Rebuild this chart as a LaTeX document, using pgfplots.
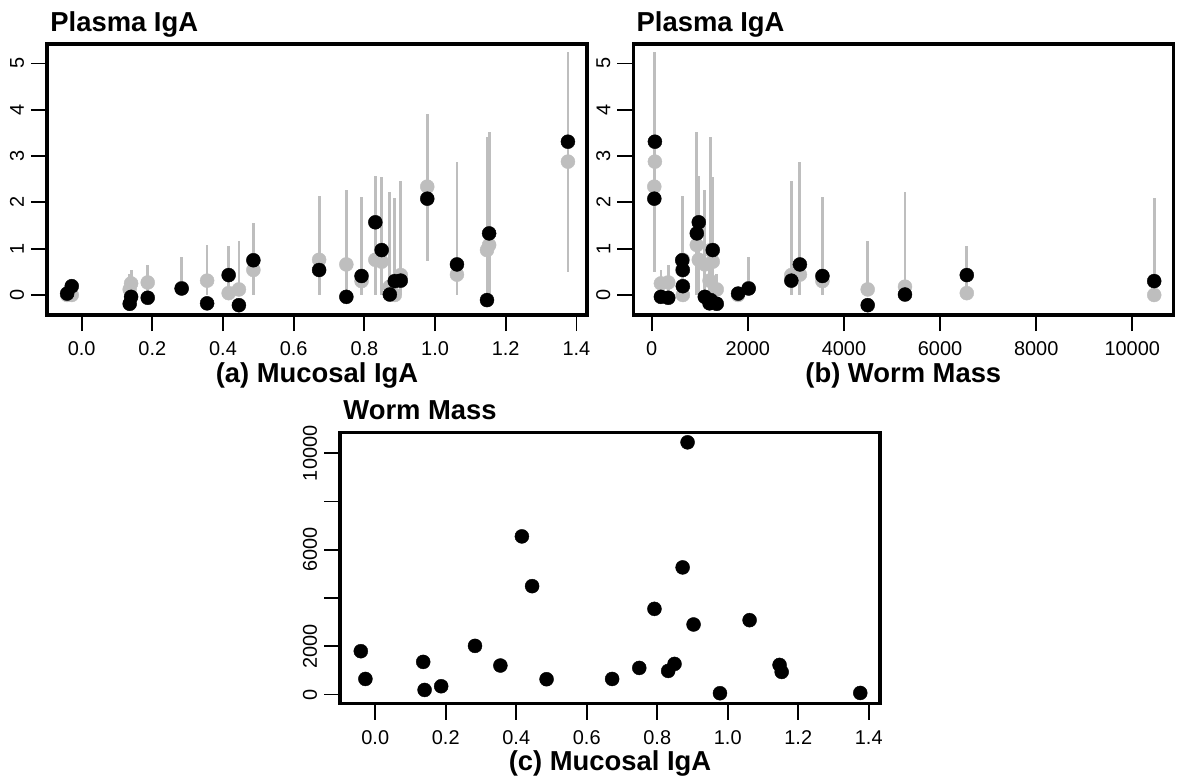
\documentclass[border=0pt]{standalone}
\usepackage{pgfplots}
\pgfplotsset{compat=1.18}
\usepackage{pgfplotstable}
\usepackage{fontspec}
\setmainfont{Liberation Sans}
\definecolor{rgrey}{HTML}{BEBEBE}

% id, mucosal IgA, worm mass, observed plasma IgA, fitted, lower, upper
\pgfplotstableread{
id muc wm obs fit lo hi
1 -0.041 1797 0.03 0.00 0.00 0.10
2 -0.028 647 0.19 0.00 0.00 0.10
3 0.136 1353 -0.19 0.12 0.00 0.45
4 0.140 191 -0.04 0.25 0.00 0.54
5 0.187 344 -0.06 0.27 0.00 0.65
6 0.283 2017 0.14 0.15 0.00 0.83
7 0.355 1203 -0.18 0.31 0.00 1.08
8 0.416 6556 0.43 0.04 0.00 1.05
9 0.445 4494 -0.22 0.12 0.00 1.17
10 0.486 635 0.75 0.54 0.00 1.56
11 0.672 647 0.54 0.76 0.00 2.14
12 0.749 1104 -0.04 0.66 0.00 2.27
13 0.792 3552 0.41 0.30 0.00 2.12
14 0.831 979 1.57 0.76 0.00 2.56
15 0.849 1270 0.97 0.72 0.00 2.54
16 0.872 5270 0.01 0.18 0.00 2.23
17 0.886 10456 0.30 0.00 0.00 2.10
18 0.903 2905 0.31 0.43 0.00 2.47
19 0.978 54 2.08 2.34 0.74 3.91
20 1.062 3083 0.66 0.44 0.00 2.88
21 1.147 1228 -0.11 0.97 0.00 3.42
22 1.153 938 1.33 1.08 0.00 3.51
23 1.376 66 3.31 2.88 0.50 5.24
}\data

\tikzset{
  ttl/.style={anchor=base west, inner sep=0pt, font=\bfseries\fontsize{13.75}{16}\selectfont},
  xlab/.style={anchor=base, inner sep=0pt, font=\bfseries\fontsize{13.75}{16}\selectfont},
}
\pgfplotsset{
  myax/.style={
    scale only axis, width=270bp, height=135.5bp, anchor=south west,
    axis line style={line width=1.75bp},
    tick style={line width=0.9bp, black},
    major tick length=8bp,
    tick align=outside,
    xtick pos=bottom, ytick pos=left,
    scaled ticks=false,
    ticklabel style={font=\fontsize{10}{12}\selectfont},
    xticklabel style={yshift=-2bp},
    yticklabel style={rotate=90, anchor=south},
    clip mode=individual,
  },
  greypts/.style={only marks, mark=*, mark size=3.5bp, color=rgrey,
    mark options={fill=rgrey, draw=rgrey, line width=0.2bp},
    error bars/.cd, y dir=both, y explicit, error mark=none,
    error bar style={line width=1.4bp, color=rgrey}},
  blackpts/.style={only marks, mark=*, mark size=3.5bp, color=black,
    mark options={fill=black, draw=black, line width=0.2bp}},
}

\begin{document}
\begin{tikzpicture}[x=1bp,y=1bp]
\useasboundingbox (0,0) rectangle (591,389);

% (a)
\begin{axis}[myax, at={(23.5bp,231.5bp)},
  xmin=-0.098, xmax=1.430, ymin=-0.432, ymax=5.42,
  xtick={0,0.2,0.4,0.6,0.8,1.0,1.2,1.4},
  xticklabels={0.0,0.2,0.4,0.6,0.8,1.0,1.2,1.4},
  ytick={0,1,2,3,4,5}, yticklabels={0,1,2,3,4,5}]
\addplot+[greypts] table[x=muc, y=fit,
  y error plus expr=\thisrow{hi}-\thisrow{fit},
  y error minus expr=\thisrow{fit}-\thisrow{lo}] {\data};
\addplot+[blackpts] table[x=muc, y=obs] {\data};
\node[ttl, xshift=1.5bp, yshift=6.25bp] at (rel axis cs:0,1) {Plasma IgA};
\node[xlab, yshift=-33.6bp] at (rel axis cs:0.5,0) {(a) Mucosal IgA};
\end{axis}

% (b)
\begin{axis}[myax, at={(316.65bp,231.5bp)},
  xmin=-383, xmax=10854, ymin=-0.432, ymax=5.42,
  xtick={0,2000,4000,6000,8000,10000},
  xticklabels={0,2000,4000,6000,8000,10000},
  ytick={0,1,2,3,4,5}, yticklabels={0,1,2,3,4,5}]
\addplot+[greypts] table[x=wm, y=fit,
  y error plus expr=\thisrow{hi}-\thisrow{fit},
  y error minus expr=\thisrow{fit}-\thisrow{lo}] {\data};
\addplot+[blackpts] table[x=wm, y=obs] {\data};
\node[ttl, xshift=1.5bp, yshift=6.25bp] at (rel axis cs:0,1) {Plasma IgA};
\node[xlab, yshift=-33.6bp] at (rel axis cs:0.5,0) {(b) Worm Mass};
\end{axis}

% (c)
\begin{axis}[myax, at={(170bp,37.15bp)}, height=135.7bp,
  xmin=-0.100, xmax=1.432, ymin=-380, ymax=10871,
  xtick={0,0.2,0.4,0.6,0.8,1.0,1.2,1.4},
  xticklabels={0.0,0.2,0.4,0.6,0.8,1.0,1.2,1.4},
  ytick={0,2000,4000,6000,8000,10000}, yticklabels={0,2000,,6000,,10000}]
\addplot+[blackpts] table[x=muc, y=wm] {\data};
\node[ttl, xshift=1.5bp, yshift=6.25bp] at (rel axis cs:0,1) {Worm Mass};
\node[xlab, yshift=-33.6bp] at (rel axis cs:0.5,0) {(c) Mucosal IgA};
\end{axis}
\end{tikzpicture}
\end{document}
